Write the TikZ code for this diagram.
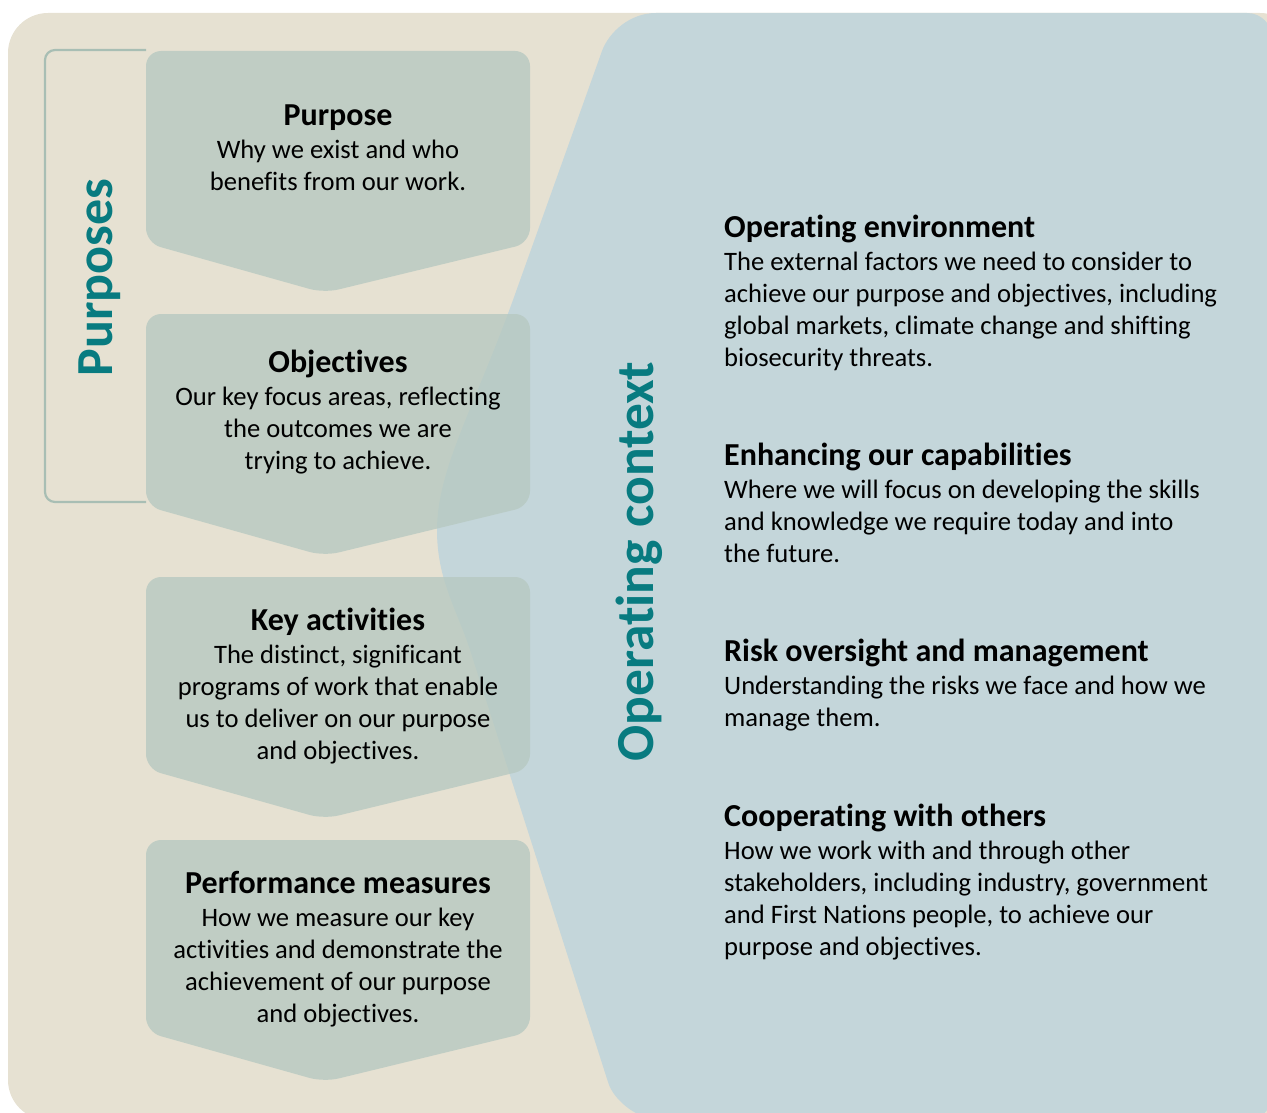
\documentclass[tikz,border=0pt]{standalone}
\usepackage{fontspec}
\setmainfont{Carlito}[Ligatures={NoCommon}]
\definecolor{beigebg}{RGB}{230,225,210}
\definecolor{bluebg}{RGB}{196,214,218}
\definecolor{chevfill}{RGB}{183,201,193}
\definecolor{bracketcol}{RGB}{168,190,180}
\definecolor{tealtxt}{RGB}{8,123,128}
\tikzset{
  chevron/.style={fill=chevfill, fill opacity=0.8, rounded corners=15pt},
  brackline/.style={draw=bracketcol, line width=2.2pt, rounded corners=10pt},
  sidetitle/.style={rotate=90, anchor=base, inner sep=0pt, text=tealtxt,
    font=\fontsize{52}{60}\selectfont\bfseries},
  boxtext/.style={anchor=base, align=center, inner sep=0pt,
    font=\fontsize{26.6}{32}\selectfont},
  ctxtext/.style={anchor=base west, align=left, inner sep=0pt,
    font=\fontsize{26.6}{32}\selectfont},
}
\newcommand{\ttl}[1]{{\fontsize{32}{32}\selectfont\bfseries #1}\\[1pt]}
\begin{document}
\begin{tikzpicture}[x=1pt,y=-1pt]
\useasboundingbox (0,0) rectangle (1267,1113);
% beige background
\fill[beigebg, rounded corners=40pt] (8,13) rectangle (1300,1120);
% blue operating context shape
\fill[bluebg] (1247,13) .. controls (1261,13) and (1272,24) .. (1272,38)
  -- (1272,1095) .. controls (1272,1109) and (1261,1120) .. (1247,1120)
  -- (660,1120) .. controls (640,1120) and (614,1102) .. (608,1082)
  -- (470,650) .. controls (457,610) and (437,580) .. (437,530)
  .. controls (437,470) and (473,410) .. (513,300)
  -- (602,51) .. controls (609,32) and (630,13) .. (656,13) -- cycle;
% bracket
\draw[brackline] (146,50) -- (45,50) -- (45,502) -- (146,502);
% chevrons
\foreach \T in {51,314,577,840}{
  \fill[chevron] (338,\T) -- (530,\T) -- (530,\T+192) -- (324,\T+242)
    -- (146,\T+192) -- (146,\T) -- cycle;
}
% side titles
\node[sidetitle] (purposes) at (112,277.5) {Purposes};
\node[sidetitle, font=\fontsize{53.5}{60}\selectfont\bfseries] (opcontext) at (653,561.5) {Operating context};
% chevron texts (anchored at the baseline of the last line)
\node[boxtext] (purpose) at (338,190) {\ttl{Purpose}Why we exist and who\\benefits from our work.};
\node[boxtext] (objectives) at (338,469) {\ttl{Objectives}Our key focus areas, reflecting\\the outcomes we are\\trying to achieve.};
\node[boxtext] (keyact) at (338,759) {\ttl{Key activities}The distinct, significant\\programs of work that enable\\us to deliver on our purpose\\and objectives.};
\node[boxtext] (perf) at (338,1022) {\ttl{Performance measures}How we measure our key\\activities and demonstrate the\\achievement of our purpose\\and objectives.};
% context texts
\node[ctxtext] (openv) at (724,366) {\ttl{Operating environment}The external factors we need to consider to\\achieve our purpose and objectives, including\\global markets, climate change and shifting\\biosecurity threats.};
\node[ctxtext] (enhance) at (724,562) {\ttl{Enhancing our capabilities}Where we will focus on developing the skills\\and knowledge we require today and into\\the future.};
\node[ctxtext] (risk) at (724,726) {\ttl{Risk oversight and management}Understanding the risks we face and how we\\manage them.};
\node[ctxtext] (coop) at (724,955) {\ttl{Cooperating with others}How we work with and through other\\stakeholders, including industry, government\\and First Nations people, to achieve our\\purpose and objectives.};
\end{tikzpicture}
\end{document}
